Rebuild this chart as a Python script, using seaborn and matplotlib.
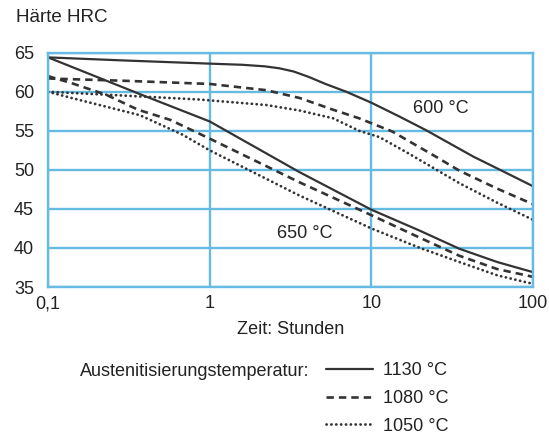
import matplotlib
matplotlib.use("Agg")
import matplotlib.pyplot as plt
import seaborn as sns
import pandas as pd
import numpy as np

sns.set_style("white")
plt.rcParams['font.family'] = ['Liberation Sans', 'DejaVu Sans']

# --- data ---
# tempering 600 °C
h_600_1130 = [0.1, 0.3, 1, 1.6, 2.2, 2.7, 3.3, 4.1, 5.2, 7, 10, 15, 21.7, 42.7, 70, 100]
v_600_1130 = [64.4, 64.0, 63.6, 63.45, 63.25, 63.0, 62.6, 61.9, 61.0, 60.0, 58.6, 56.8, 55.1, 51.7, 49.5, 47.9]
h_600_1080 = [0.1, 0.3, 1, 2.24, 3.6, 5.8, 8.4, 13.5, 25, 35, 60, 100]
v_600_1080 = [61.7, 61.4, 61.0, 60.2, 59.2, 57.7, 56.6, 54.9, 51.7, 49.9, 47.6, 45.6]
h_600_1050 = [0.1, 0.3, 0.87, 2.24, 3.6, 5.8, 8.4, 11.2, 17, 35, 60, 100]
v_600_1050 = [60.0, 59.5, 59.0, 58.3, 57.6, 56.6, 55.0, 54.2, 52.1, 48.3, 45.8, 43.6]
# tempering 650 °C
h_650_1130 = [0.1, 0.37, 1, 3.6, 10, 20, 35, 60, 100]
v_650_1130 = [64.4, 59.7, 56.2, 49.7, 44.9, 42.2, 39.9, 38.2, 36.9]
h_650_1080 = [0.1, 0.14, 0.23, 0.36, 0.57, 1, 3.6, 10, 20, 35, 60, 100]
v_650_1080 = [62.0, 61.1, 59.6, 57.7, 56.4, 54.0, 48.4, 44.2, 41.3, 39.0, 37.3, 36.3]
h_650_1050 = [0.1, 0.14, 0.37, 0.68, 1, 3.6, 10, 20, 35, 60, 100]
v_650_1050 = [60.0, 59.2, 57.0, 54.5, 52.5, 46.7, 42.5, 40.0, 38.2, 36.5, 35.4]

x_ticks = [0.1, 1, 10, 100]
x_ticklabels = ["0,1", "1", "10", "100"]
y_ticks = [35, 40, 45, 50, 55, 60, 65]
legend_labels = ["1130 °C", "1080 °C", "1050 °C"]

series = [
    ("600", "1130", h_600_1130, v_600_1130),
    ("600", "1080", h_600_1080, v_600_1080),
    ("600", "1050", h_600_1050, v_600_1050),
    ("650", "1130", h_650_1130, v_650_1130),
    ("650", "1080", h_650_1080, v_650_1080),
    ("650", "1050", h_650_1050, v_650_1050),
]

FS = 13
TXT = "#222222"

fig = plt.figure(figsize=(5.49, 4.34), dpi=100)
ax = fig.add_axes([48/549, 1-287/434, (533-48)/549, (287-52.7)/434])

line_col = "#333333"
grid_col = "#66bbe2"
handles = {}
for temper, aus, h, v in series:
    df = pd.DataFrame({"h": h, "v": v})
    sns.lineplot(data=df, x="h", y="v", ax=ax, color=line_col, estimator=None, sort=False)
    ln = ax.lines[-1]
    if aus == "1130":
        ln.set_linewidth(1.6)
        ln.set_solid_capstyle("round")
        ln.set_solid_joinstyle("round")
    elif aus == "1080":
        ln.set_linewidth(1.9)
        ln.set_dashes([2.8, 1.9])
        ln.set_dash_capstyle("butt")
    else:
        ln.set_linewidth(2.0)
        ln.set_dashes([0.05, 1.7])
        ln.set_dash_capstyle("round")
    handles.setdefault(aus, ln)

ax.set_xscale("log")
ax.set_xlim(0.1, 100)
ax.set_ylim(35, 65)
ax.set_xticks(x_ticks)
ax.set_xticklabels(x_ticklabels)
ax.minorticks_off()
ax.set_yticks(y_ticks)
ax.tick_params(axis="both", length=0, labelsize=FS, colors=TXT)
ax.tick_params(axis="y", pad=10)
ax.tick_params(axis="x", pad=6)
ax.grid(True, color=grid_col, linewidth=1.7, zorder=0)
ax.set_axisbelow(True)
for sp in ax.spines.values():
    sp.set_color(grid_col)
    sp.set_linewidth(1.7)
ax.set_xlabel("Zeit: Stunden", fontsize=FS, color=TXT, labelpad=6)
ax.set_ylabel("")

fig.text(16/549, 1-18/434, "Härte HRC", fontsize=13.5, color=TXT, va="center", ha="left")

ax.text(27, 57.8, "600 °C", fontsize=FS, ha="center", va="center", color=TXT)
ax.text(3.9, 41.8, "650 °C", fontsize=FS, ha="center", va="center", color=TXT)

fig.text(80/549, 1-371/434, "Austenitisierungstemperatur:", fontsize=FS, color=TXT,
         ha="left", va="center")
leg = fig.legend([handles["1130"], handles["1080"], handles["1050"]], legend_labels,
                 loc="upper left", bbox_to_anchor=(326/549, 1-362/434), frameon=False,
                 fontsize=FS, handlelength=2.6, handletextpad=0.55, labelspacing=0.6,
                 borderpad=0, borderaxespad=0)
for t in leg.get_texts():
    t.set_color(TXT)

fig.savefig("out.png", dpi=100)
